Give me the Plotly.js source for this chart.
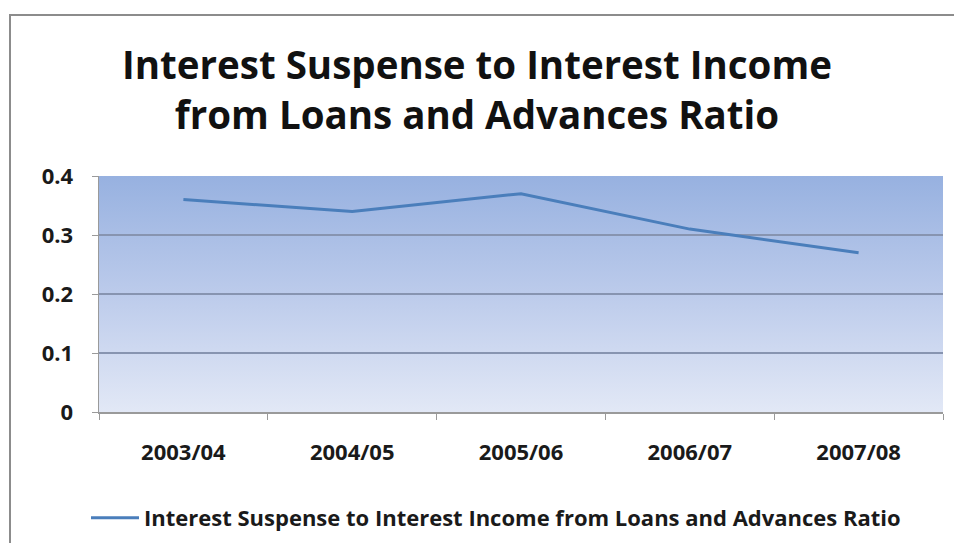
<!DOCTYPE html>
<html>
<head>
<meta charset="utf-8">
<script src="https://cdn.plot.ly/plotly-3.0.1.min.js"></script>
<style>
  html, body { margin: 0; padding: 0; background: #ffffff; overflow: hidden; }
  #chart { width: 954px; height: 543px; }
</style>
</head>
<body>
<div id="chart"></div>
<script>
// ---- Data ----
const categories = ["2003/04", "2004/05", "2005/06", "2006/07", "2007/08"];
const ratioValues = [0.36, 0.34, 0.37, 0.31, 0.27];
const seriesName = "Interest Suspense to Interest Income from Loans and Advances Ratio";
const chartTitle = "Interest Suspense to Interest Income<br>from Loans and Advances Ratio";
const yTickValues = [0, 0.1, 0.2, 0.3, 0.4];
const yTickLabels = ["0", "0.1", "0.2", "0.3", "0.4"];

// ---- Layout geometry ----
const W = 954, H = 543;
const M = { l: 99, r: 11, t: 176, b: 131, autoexpand: false };
const plotW = W - M.l - M.r, plotH = H - M.t - M.b;
const px2x = p => (p - M.l) / plotW;
const py2y = p => (H - M.b - p) / plotH;

// gradient plot background as an SVG data image
const gradSvg = '<svg xmlns="http://www.w3.org/2000/svg" width="100" height="100" preserveAspectRatio="none">' +
  '<defs><linearGradient id="g" x1="0" y1="0" x2="0" y2="1">' +
  '<stop offset="0" stop-color="#97b1e0"/><stop offset="0.5" stop-color="#bccbeb"/><stop offset="1" stop-color="#e2e8f6"/>' +
  '</linearGradient></defs><rect width="100" height="100" fill="url(#g)"/></svg>';
const gradUrl = 'data:image/svg+xml;base64,' + btoa(gradSvg);

const FONT = '"Open Sans", Lato, sans-serif';

const trace = {
  type: 'scatter',
  mode: 'lines',
  x: categories,
  y: ratioValues,
  name: seriesName,
  line: { color: '#4a7ebb', width: 3 },
  showlegend: true,
  hoverinfo: 'x+y'
};

const layout = {
  width: W,
  height: H,
  margin: M,
  paper_bgcolor: '#ffffff',
  plot_bgcolor: 'rgba(0,0,0,0)',
  font: { family: FONT, color: '#1a1a1a' },
  title: {
    text: chartTitle,
    font: { family: FONT, size: 38.5, color: '#111111', weight: 'bold' },
    xref: 'container', x: 0.5, xanchor: 'center',
    yref: 'container', y: 1 - 79 / H, yanchor: 'top'
  },
  xaxis: {
    type: 'category',
    range: [-0.5, categories.length - 0.5],
    tickson: 'boundaries',
    ticks: 'outside',
    ticklen: 6,
    tickcolor: '#9a9a9a',
    showline: true,
    linecolor: '#9a9a9a',
    linewidth: 1.5,
    showgrid: false,
    zeroline: false,
    automargin: false,
    tickfont: { family: FONT, size: 22, color: '#1a1a1a', weight: 'bold' },
    ticklabelstandoff: 20,
    fixedrange: true
  },
  yaxis: {
    range: [0, 0.4],
    tickvals: yTickValues,
    ticktext: yTickLabels,
    ticks: 'outside',
    ticklen: 6,
    tickcolor: '#9a9a9a',
    showline: true,
    linecolor: '#9a9a9a',
    linewidth: 1.5,
    showgrid: true,
    gridcolor: '#8794b0',
    gridwidth: 1.5,
    zeroline: false,
    automargin: false,
    tickfont: { family: FONT, size: 22, color: '#1a1a1a', weight: 'bold' },
    ticklabelstandoff: 14,
    fixedrange: true
  },
  showlegend: true,
  legend: {
    orientation: 'h',
    x: px2x(86), xanchor: 'left',
    y: py2y(518), yanchor: 'middle',
    font: { family: FONT, size: 22, color: '#1a1a1a', weight: 'bold' },
    itemwidth: 48,
    bgcolor: 'rgba(0,0,0,0)'
  },
  images: [{
    source: gradUrl,
    xref: 'paper', yref: 'paper',
    x: 0, y: 1, sizex: 1, sizey: 1,
    xanchor: 'left', yanchor: 'top',
    sizing: 'stretch',
    layer: 'below'
  }],
  shapes: [
    { type: 'rect', xref: 'paper', yref: 'paper',
      x0: px2x(10), x1: px2x(1000), y0: py2y(15), y1: py2y(600),
      fillcolor: 'rgba(0,0,0,0)', line: { color: '#8c8c8c', width: 2 } }
  ]
};

Plotly.newPlot('chart', [trace], layout, { displayModeBar: false, staticPlot: true });
</script>
</body>
</html>
